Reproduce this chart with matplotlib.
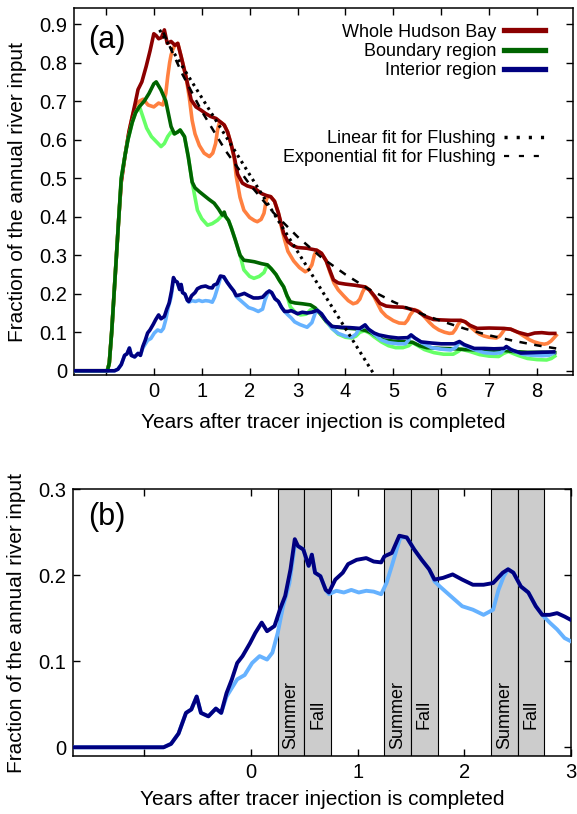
import matplotlib
matplotlib.use("Agg")
from matplotlib import pyplot as plt
from matplotlib.lines import Line2D
from matplotlib.ticker import FuncFormatter

plt.rcParams['font.family'] = ['Liberation Sans', 'DejaVu Sans']

# Whole Hudson Bay (dark) and its light companion
hb_x = [-1.667, -0.97, -0.93, -0.88, -0.83, -0.78, -0.73, -0.68, -0.6, -0.52,
        -0.45, -0.38, -0.33, -0.25, -0.16, -0.08, 0.0, 0.05, 0.1, 0.16,
        0.22, 0.28, 0.36, 0.44, 0.5, 0.57, 0.67, 0.78, 0.88, 0.98,
        1.08, 1.19, 1.3, 1.4, 1.47, 1.54, 1.61, 1.68, 1.75, 1.85,
        1.95, 2.1, 2.25, 2.35, 2.44, 2.52, 2.6, 2.71, 2.8, 2.9,
        3.0, 3.2, 3.4, 3.5, 3.6, 3.75, 3.85, 4.0, 4.2, 4.4,
        4.5, 4.6, 4.72, 4.85, 5.0, 5.2, 5.4, 5.5, 5.65, 5.84,
        6.0, 6.2, 6.4, 6.5, 6.6, 6.75, 7.0, 7.31, 7.45, 7.6,
        7.81, 7.95, 8.1, 8.25, 8.37]
hb_y = [0, 0, 0.02, 0.10, 0.20, 0.30, 0.40, 0.49, 0.56, 0.62,
        0.66, 0.70, 0.73, 0.75, 0.79, 0.83, 0.875, 0.87, 0.862, 0.865,
        0.885, 0.85, 0.855, 0.845, 0.85, 0.816, 0.764, 0.703, 0.685, 0.677,
        0.668, 0.66, 0.655, 0.645, 0.638, 0.62, 0.59, 0.555, 0.51, 0.487,
        0.48, 0.474, 0.46, 0.455, 0.452, 0.44, 0.41, 0.357, 0.335, 0.325,
        0.32, 0.318, 0.313, 0.305, 0.285, 0.236, 0.228, 0.225, 0.222, 0.218,
        0.21, 0.195, 0.175, 0.168, 0.166, 0.165, 0.159, 0.155, 0.142, 0.133,
        0.132, 0.131, 0.131, 0.127, 0.118, 0.11, 0.111, 0.11, 0.108, 0.1,
        0.093, 0.098, 0.099, 0.097, 0.097]

hbl_x = [-1.667, -0.97, -0.93, -0.88, -0.83, -0.78, -0.73, -0.68, -0.6, -0.52,
         -0.45, -0.38, -0.3, -0.22, -0.12, 0.0, 0.1, 0.19, 0.25, 0.29,
         0.33, 0.36, 0.40, 0.44, 0.5, 0.57, 0.67, 0.74, 0.80, 0.86,
         0.95, 1.05, 1.16, 1.23, 1.29, 1.33, 1.37, 1.4, 1.47, 1.54,
         1.61, 1.68, 1.72, 1.8, 1.88, 2.0, 2.1, 2.16, 2.24, 2.30,
         2.35, 2.38, 2.44, 2.52, 2.6, 2.68, 2.73, 2.8, 2.92, 3.04,
         3.16, 3.24, 3.30, 3.35, 3.4, 3.5, 3.6, 3.68, 3.76, 3.85,
         3.96, 4.06, 4.16, 4.24, 4.30, 4.36, 4.42, 4.5, 4.6, 4.68,
         4.75, 4.85, 5.0, 5.12, 5.24, 5.30, 5.35, 5.44, 5.55, 5.65,
         5.75, 5.84, 5.95, 6.07, 6.17, 6.24, 6.30, 6.35, 6.42, 6.5,
         6.6, 6.72, 6.8, 6.9, 7.0, 7.15, 7.22, 7.27, 7.33, 7.45,
         7.6, 7.75, 7.85, 7.94, 8.05, 8.15, 8.22, 8.29, 8.35, 8.4]
hbl_y = [0, 0, 0.02, 0.10, 0.20, 0.30, 0.40, 0.49, 0.56, 0.62,
         0.66, 0.69, 0.70, 0.705, 0.69, 0.685, 0.695, 0.69, 0.72, 0.764,
         0.80, 0.82, 0.835, 0.845, 0.85, 0.816, 0.764, 0.71, 0.65, 0.615,
         0.585, 0.565, 0.556, 0.565, 0.59, 0.625, 0.645, 0.645, 0.638, 0.62,
         0.59, 0.55, 0.505, 0.45, 0.417, 0.398, 0.39, 0.387, 0.393, 0.409,
         0.445, 0.452, 0.452, 0.44, 0.41, 0.365, 0.34, 0.31, 0.285, 0.268,
         0.257, 0.263, 0.275, 0.30, 0.313, 0.305, 0.285, 0.255, 0.228, 0.21,
         0.195, 0.182, 0.174, 0.177, 0.186, 0.205, 0.218, 0.21, 0.192, 0.172,
         0.155, 0.142, 0.13, 0.124, 0.123, 0.132, 0.145, 0.159, 0.153, 0.14,
         0.126, 0.115, 0.106, 0.1, 0.097, 0.098, 0.108, 0.12, 0.131, 0.127,
         0.115, 0.102, 0.095, 0.09, 0.087, 0.085, 0.09, 0.098, 0.109, 0.108,
         0.1, 0.088, 0.08, 0.075, 0.071, 0.069, 0.071, 0.077, 0.085, 0.092]

# Boundary region
bd_x = [-1.667, -0.97, -0.93, -0.88, -0.83, -0.78, -0.73, -0.68, -0.6, -0.54,
        -0.45, -0.38, -0.3, -0.2, -0.1, 0.0, 0.05, 0.15, 0.25, 0.3,
        0.36, 0.43, 0.5, 0.55, 0.64, 0.72, 0.8, 0.86, 0.95, 1.05,
        1.15, 1.26, 1.35, 1.43, 1.47, 1.5, 1.56, 1.62, 1.7, 1.8,
        1.88, 2.0, 2.1, 2.25, 2.37, 2.45, 2.55, 2.62, 2.71, 2.78,
        2.85, 2.95, 3.1, 3.27, 3.37, 3.47, 3.6, 3.72, 3.9, 4.1,
        4.3, 4.44, 4.55, 4.65, 4.8, 5.0, 5.2, 5.4, 5.55, 5.7,
        6.0, 6.3, 6.5, 6.8, 7.0, 7.3, 7.5, 7.8, 8.1, 8.37]
bd_y = [0, 0, 0.02, 0.10, 0.20, 0.30, 0.40, 0.50, 0.56, 0.60,
        0.645, 0.67, 0.686, 0.70, 0.72, 0.745, 0.75, 0.729, 0.70, 0.67,
        0.634, 0.615, 0.62, 0.625, 0.608, 0.555, 0.49, 0.475, 0.465, 0.455,
        0.445, 0.435, 0.42, 0.404, 0.412, 0.40, 0.39, 0.37, 0.34, 0.30,
        0.287, 0.285, 0.283, 0.278, 0.275, 0.265, 0.25, 0.235, 0.218, 0.195,
        0.179, 0.176, 0.174, 0.171, 0.163, 0.149, 0.128, 0.115, 0.112, 0.11,
        0.108, 0.104, 0.098, 0.09, 0.08, 0.077, 0.076, 0.074, 0.065, 0.06,
        0.058, 0.057, 0.055, 0.054, 0.053, 0.053, 0.05, 0.048, 0.048, 0.047]

bdl_x = [-1.667, -0.97, -0.93, -0.88, -0.83, -0.78, -0.73, -0.68, -0.6, -0.54,
         -0.45, -0.38, -0.3, -0.23, -0.15, -0.05, 0.05, 0.15, 0.22, 0.29,
         0.36, 0.43, 0.5, 0.55, 0.64, 0.72, 0.8, 0.86, 0.91, 1.0,
         1.12, 1.22, 1.33, 1.43, 1.5, 1.56, 1.62, 1.7, 1.8, 1.88,
         2.0, 2.09, 2.2, 2.3, 2.37, 2.45, 2.55, 2.62, 2.71, 2.78,
         2.85, 2.95, 3.06, 3.18, 3.27, 3.35, 3.47, 3.6, 3.72, 3.85,
         4.0, 4.13, 4.22, 4.3, 4.4, 4.5, 4.6, 4.75, 4.9, 5.05,
         5.2, 5.32, 5.4, 5.5, 5.65, 5.85, 6.05, 6.25, 6.35, 6.42,
         6.6, 6.8, 7.0, 7.2, 7.3, 7.4, 7.6, 7.8, 8.0, 8.2,
         8.3, 8.37]
bdl_y = [0, 0, 0.02, 0.10, 0.20, 0.30, 0.40, 0.50, 0.56, 0.60,
         0.645, 0.67, 0.686, 0.66, 0.63, 0.608, 0.595, 0.582, 0.59, 0.608,
         0.62, 0.615, 0.62, 0.625, 0.608, 0.555, 0.49, 0.45, 0.417, 0.395,
         0.378, 0.382, 0.391, 0.404, 0.40, 0.39, 0.37, 0.34, 0.30, 0.262,
         0.245, 0.24, 0.245, 0.255, 0.275, 0.265, 0.25, 0.235, 0.218, 0.195,
         0.166, 0.152, 0.145, 0.147, 0.158, 0.163, 0.149, 0.128, 0.11, 0.095,
         0.087, 0.085, 0.09, 0.1, 0.104, 0.098, 0.088, 0.075, 0.065, 0.06,
         0.06, 0.065, 0.073, 0.066, 0.055, 0.047, 0.043, 0.043, 0.05, 0.056,
         0.05, 0.042, 0.038, 0.037, 0.045, 0.05, 0.04, 0.032, 0.029, 0.028,
         0.032, 0.038]

# Interior region
in_x = [-1.667, -0.82, -0.75, -0.68, -0.61, -0.56, -0.51, -0.47, -0.40, -0.33,
        -0.28, -0.23, -0.18, -0.13, -0.08, -0.01, 0.04, 0.10, 0.15, 0.22,
        0.27, 0.32, 0.37, 0.41, 0.44, 0.49, 0.54, 0.57, 0.60, 0.65,
        0.70, 0.73, 0.79, 0.86, 0.91, 0.99, 1.08, 1.15, 1.22, 1.25,
        1.32, 1.39, 1.46, 1.53, 1.60, 1.67, 1.72, 1.80, 1.89, 1.98,
        2.08, 2.18, 2.27, 2.36, 2.41, 2.46, 2.53, 2.60, 2.67, 2.73,
        2.80, 2.87, 2.94, 3.0, 3.1, 3.2, 3.3, 3.41, 3.5, 3.6,
        3.72, 3.9, 4.1, 4.3, 4.41, 4.48, 4.6, 4.7, 4.9, 5.1,
        5.3, 5.37, 5.45, 5.58, 5.8, 6.0, 6.27, 6.38, 6.48, 6.69,
        6.9, 7.1, 7.31, 7.36, 7.45, 7.66, 7.9, 8.1, 8.35]
in_y = [0, 0, 0.004, 0.016, 0.04, 0.044, 0.059, 0.04, 0.036, 0.045,
        0.04, 0.063, 0.079, 0.098, 0.106, 0.121, 0.133, 0.145, 0.135, 0.141,
        0.16, 0.176, 0.207, 0.242, 0.234, 0.23, 0.211, 0.224, 0.203, 0.199,
        0.183, 0.18, 0.195, 0.203, 0.213, 0.218, 0.22, 0.216, 0.215, 0.222,
        0.226, 0.246, 0.244, 0.23, 0.218, 0.207, 0.195, 0.197, 0.201, 0.195,
        0.189, 0.189, 0.191, 0.203, 0.207, 0.203, 0.187, 0.18, 0.164, 0.154,
        0.154, 0.156, 0.152, 0.148, 0.152, 0.15, 0.152, 0.157, 0.148, 0.13,
        0.115, 0.113, 0.112, 0.11, 0.119, 0.108, 0.098, 0.093, 0.088, 0.085,
        0.086, 0.093, 0.085, 0.075, 0.072, 0.07, 0.07, 0.076, 0.068, 0.058,
        0.058, 0.057, 0.058, 0.063, 0.055, 0.046, 0.047, 0.048, 0.049]

inl_x = [-1.667, -0.82, -0.75, -0.68, -0.61, -0.56, -0.51, -0.47, -0.40, -0.33,
         -0.28, -0.23, -0.13, -0.06, 0.01, 0.08, 0.15, 0.20, 0.25, 0.30,
         0.36, 0.41, 0.44, 0.49, 0.54, 0.57, 0.60, 0.65, 0.70, 0.73,
         0.80, 0.87, 0.94, 1.01, 1.08, 1.15, 1.22, 1.27, 1.32, 1.37,
         1.40, 1.46, 1.53, 1.60, 1.67, 1.72, 1.77, 1.87, 1.98, 2.08,
         2.18, 2.27, 2.32, 2.37, 2.41, 2.46, 2.53, 2.60, 2.67, 2.73,
         2.80, 2.87, 2.94, 3.05, 3.2, 3.3, 3.37, 3.41, 3.5, 3.6,
         3.72, 3.85, 4.0, 4.13, 4.22, 4.28, 4.35, 4.41, 4.48, 4.6,
         4.75, 4.9, 5.1, 5.25, 5.32, 5.37, 5.45, 5.6, 5.8, 6.0,
         6.2, 6.3, 6.38, 6.48, 6.69, 6.9, 7.1, 7.25, 7.33, 7.4,
         7.5, 7.7, 7.9, 8.1, 8.25, 8.35]
inl_y = [0, 0, 0.004, 0.016, 0.04, 0.044, 0.059, 0.04, 0.036, 0.045,
         0.04, 0.059, 0.079, 0.084, 0.098, 0.106, 0.102, 0.11, 0.133, 0.164,
         0.191, 0.235, 0.234, 0.23, 0.211, 0.224, 0.203, 0.199, 0.183, 0.178,
         0.182, 0.18, 0.183, 0.18, 0.182, 0.181, 0.178, 0.191, 0.211, 0.232,
         0.244, 0.244, 0.23, 0.218, 0.207, 0.193, 0.187, 0.176, 0.164, 0.16,
         0.154, 0.16, 0.183, 0.199, 0.207, 0.203, 0.187, 0.18, 0.164, 0.154,
         0.145, 0.137, 0.127, 0.12, 0.113, 0.125, 0.15, 0.157, 0.148, 0.13,
         0.11, 0.097, 0.09, 0.087, 0.095, 0.108, 0.112, 0.119, 0.108, 0.095,
         0.08, 0.073, 0.07, 0.07, 0.08, 0.093, 0.085, 0.072, 0.06, 0.056,
         0.054, 0.06, 0.074, 0.066, 0.055, 0.047, 0.045, 0.047, 0.058, 0.06,
         0.052, 0.043, 0.04, 0.039, 0.04, 0.046]

# flushing fits
lin_x = [0.12, 4.6]
lin_y = [0.885, -0.01]
exp_x = [0.2, 0.6, 1.0, 1.5, 2.0, 2.5, 3.0, 3.5, 4.0, 4.5, 5.0, 5.5, 6.0, 6.5, 7.0, 7.5, 8.0, 8.4]
exp_y = [0.878, 0.769, 0.674, 0.571, 0.484, 0.41, 0.348, 0.294, 0.25, 0.211,
         0.179, 0.152, 0.129, 0.109, 0.092, 0.078, 0.066, 0.058]

season_start = [0.25, 0.5, 1.25, 1.5, 2.25, 2.5]
season_end = [0.5, 0.75, 1.5, 1.75, 2.5, 2.75]
season_name = ['Summer', 'Fall', 'Summer', 'Fall', 'Summer', 'Fall']

c_red, c_orange = '#8b0000', '#ff8040'
c_green, c_lgreen = '#006400', '#66ff66'
c_blue, c_lblue = '#000080', '#66b2ff'

fmt = FuncFormatter(lambda v, p: '%g' % round(v, 3))
ylab = 'Fraction of the annual river input'
xlab = 'Years after tracer injection is completed'

fig = plt.figure(figsize=(5.77, 8.14), dpi=100)
ax1 = fig.add_axes([0.1282, 0.5393, 0.8648, 0.4505])
ax2 = fig.add_axes([0.127, 0.0713, 0.8626, 0.3276])

lw = 2.6
ax1.plot(hbl_x, hbl_y, color=c_orange, lw=lw, zorder=2)
ax1.plot(hb_x, hb_y, color=c_red, lw=lw, zorder=3)
ax1.plot(bdl_x, bdl_y, color=c_lgreen, lw=lw, zorder=4)
ax1.plot(bd_x, bd_y, color=c_green, lw=lw, zorder=5)
ax1.plot(inl_x, inl_y, color=c_lblue, lw=lw, zorder=6)
ax1.plot(in_x, in_y, color=c_blue, lw=lw, zorder=7)
ax1.plot(lin_x, lin_y, color='black', lw=2.2, ls=(0, (0.9, 1.4)), zorder=8)
ax1.plot(exp_x, exp_y, color='black', lw=1.8, ls=(0, (3.0, 3.0)), zorder=8)

ax1.set_xlim(-1.667, 8.75)
ax1.set_ylim(-0.011, 0.941)
ax1.set_xticks([-1, 0, 1, 2, 3, 4, 5, 6, 7, 8])
ax1.set_xticklabels(['', '0', '1', '2', '3', '4', '5', '6', '7', '8'])
ax1.set_yticks([0, 0.1, 0.2, 0.3, 0.4, 0.5, 0.6, 0.7, 0.8, 0.9])
ax1.text(0.028, 0.913, '(a)', transform=ax1.transAxes, fontsize=22, va='center')

h1 = [Line2D([], [], color=c, lw=3.8) for c in (c_red, c_green, c_blue)]
leg1 = ax1.legend(h1, ['Whole Hudson Bay', 'Boundary region', 'Interior region'],
                  loc='upper right', bbox_to_anchor=(0.944, 0.958), frameon=False,
                  markerfirst=False, fontsize=13, handlelength=2.27, handletextpad=0.45,
                  labelspacing=0.12, borderpad=0, borderaxespad=0)
ax1.add_artist(leg1)
h2 = [Line2D([], [], color='black', lw=2.5, ls=(0, (0.9, 2.6))),
      Line2D([], [], color='black', lw=1.6, ls=(0, (2.3, 4.4)))]
ax1.legend(h2, ['Linear fit for Flushing', 'Exponential fit for Flushing'],
           loc='upper right', bbox_to_anchor=(0.944, 0.668), frameon=False,
           markerfirst=False, fontsize=13, handlelength=2.27, handletextpad=0.45,
           labelspacing=0.12, borderpad=0, borderaxespad=0)

# panel b: interior only, with the summer / fall bands
for s0, s1, name in zip(season_start, season_end, season_name):
    ax2.axvspan(s0, s1, facecolor='#cccccc', edgecolor='black', lw=0.8, zorder=1)
    ax2.text((s0 + s1) / 2, 0.038, name, rotation=90, ha='center', va='center',
             fontsize=13, zorder=2)
ax2.plot(inl_x, inl_y, color=c_lblue, lw=2.8, zorder=3)
ax2.plot(in_x, in_y, color=c_blue, lw=2.8, zorder=4)

ax2.set_xlim(-1.667, 3.0)
ax2.set_ylim(-0.0101, 0.3)
ax2.set_xticks([-1, 0, 1, 2, 3])
ax2.set_xticklabels(['', '0', '1', '2', '3'])
ax2.set_yticks([0, 0.1, 0.2, 0.3])
ax2.text(0.03, 0.897, '(b)', transform=ax2.transAxes, fontsize=22, va='center')

for ax in (ax1, ax2):
    ax.yaxis.set_major_formatter(fmt)
    ax.tick_params(direction='in', length=5, width=1, top=True, right=True,
                   labelsize=14.5, pad=5)
    for sp in ax.spines.values():
        sp.set_linewidth(1.1)
    ax.set_ylabel(ylab, fontsize=15, labelpad=9)
ax1.set_xlabel(xlab, fontsize=15, labelpad=9)
ax2.set_xlabel(xlab, fontsize=15, labelpad=6)

fig.savefig('out.png', dpi=100)
